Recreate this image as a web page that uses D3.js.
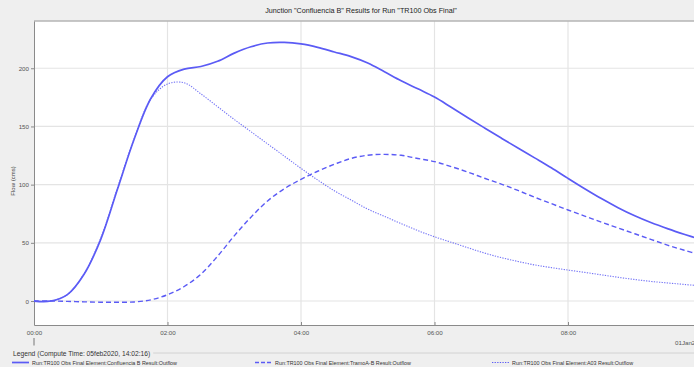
<!DOCTYPE html>
<html>
<head>
<meta charset="utf-8">
<script src="https://cdn.jsdelivr.net/npm/d3@7"></script>
<style>
  html, body { margin: 0; padding: 0; background: #efefef; }
  svg { display: block; font-family: "Liberation Sans", Arial, sans-serif; }
</style>
</head>
<body>
<svg id="chart" width="694" height="367"></svg>
<script>
// Simulation time, hours after 00:00 (15-minute steps)
const hours = d3.range(0, 10.001, 0.25);

// Outflow (cms) for each element at the times above
const confluenciaB = [
  0, 0, 5.5, 23, 53, 96, 139, 174, 192.7, 199.2, 201.5, 206, 213, 218.5, 221.7, 222.2,
  220.9, 218, 214, 210, 204.5, 197, 189.3, 182.3, 175.3, 166.5, 157.5, 148.7, 140, 131.4,
  123, 114.5, 105.4, 96.5, 88, 80.2, 73.2, 67.2, 62, 57.2, 52.6
];
const tramoAB = [
  0, 0, -0.3, -0.7, -1, -1, -0.8, 1, 5.4, 12.5, 23, 38.5, 56, 72, 86, 96.5,
  104.5, 111.5, 117.5, 122.5, 125.3, 126, 125.2, 122.5, 119.8, 115.5, 110.8, 105.5, 100.5, 95,
  89.2, 83.7, 78.2, 73, 67.8, 62.8, 57.8, 52.8, 47.8, 43.5, 39.5
];
const a03 = [
  0, 0, 5.5, 23.5, 54, 97, 139.5, 173.5, 186.5, 187.5, 178, 167, 156, 145.5, 135, 124.5,
  114, 104, 94.7, 86.8, 79, 72.8, 66.5, 60.5, 55.2, 50.5, 45.8, 41.2, 37.3, 34,
  31, 28.7, 26.6, 24.6, 22.5, 20.4, 18.5, 16.8, 15.5, 14.2, 13
];

const yTicks = [0, 50, 100, 150, 200];
const xTicks = [0, 2, 4, 6, 8];
const xTickLabels = ["00:00", "02:00", "04:00", "06:00", "08:00"];
const seriesNames = [
  "Run:TR100 Obs Final Element:Confluencia B Result:Outflow",
  "Run:TR100 Obs Final Element:TramoA-B Result:Outflow",
  "Run:TR100 Obs Final Element:A03 Result:Outflow"
];
const titleText = "Junction \"Confluencia B\" Results for Run \"TR100 Obs Final\"";
const legendTitle = "Legend (Compute Time: 05feb2020, 14:02:16)";
const dateLabel = "01Jan2000";

const svg = d3.select("#chart");
const W = 694, H = 367;
const plot = { left: 34, top: 21, right: 701.5, bottom: 325 };

const x = d3.scaleLinear().domain([0, 10]).range([plot.left, plot.right]);
const y = d3.scaleLinear().domain([-20.6, 240.6]).range([plot.bottom, plot.top]);

const lineColor = "#5b5bf5";

// background
svg.append("rect").attr("width", W).attr("height", H).attr("fill", "#efefef");

// title
svg.append("text")
  .attr("x", 361).attr("y", 12.5)
  .attr("text-anchor", "middle")
  .attr("font-size", 7.2)
  .attr("fill", "#222")
  .text(titleText);

// plot area
svg.append("rect")
  .attr("x", plot.left).attr("y", plot.top)
  .attr("width", plot.right - plot.left).attr("height", plot.bottom - plot.top)
  .attr("fill", "#fff");

// grid
const grid = svg.append("g").attr("stroke", "#e4e4e4").attr("stroke-width", 1.2);
grid.selectAll("line.h").data(yTicks).join("line")
  .attr("x1", plot.left).attr("x2", plot.right)
  .attr("y1", d => y(d)).attr("y2", d => y(d));
grid.selectAll("line.v").data(xTicks.filter(d => d > 0)).join("line")
  .attr("x1", d => x(d)).attr("x2", d => x(d))
  .attr("y1", plot.top).attr("y2", plot.bottom);

// top frame
svg.append("line")
  .attr("x1", plot.left).attr("x2", plot.right)
  .attr("y1", plot.top).attr("y2", plot.top)
  .attr("stroke", "#b4b4b4").attr("stroke-width", 1.5);

// y axis
const yAxis = svg.append("g")
  .attr("transform", `translate(${plot.left},0)`)
  .call(d3.axisLeft(y).tickValues(yTicks).tickSize(3).tickPadding(2).tickSizeOuter(0));
yAxis.select(".domain").attr("stroke", "#8a8a8a");
yAxis.selectAll(".tick line").attr("stroke", "#8a8a8a");
yAxis.selectAll(".tick text").attr("font-size", 6.2).attr("fill", "#555")
  .attr("font-family", "Liberation Sans, Arial, sans-serif");

// x axis
const xAxis = svg.append("g")
  .attr("transform", `translate(0,${plot.bottom})`)
  .call(d3.axisBottom(x).tickValues(xTicks).tickSize(-3).tickPadding(6)
    .tickFormat((d, i) => xTickLabels[i]).tickSizeOuter(0));
xAxis.select(".domain").attr("stroke", "#8a8a8a");
xAxis.selectAll(".tick line").attr("stroke", "#8a8a8a");
xAxis.selectAll(".tick text").attr("font-size", 6.2).attr("fill", "#555")
  .attr("font-family", "Liberation Sans, Arial, sans-serif");

// day marker below the first tick
svg.append("line")
  .attr("x1", x(0)).attr("x2", x(0))
  .attr("y1", 338).attr("y2", 345.5)
  .attr("stroke", "#777").attr("stroke-width", 1);
svg.append("text")
  .attr("x", 675).attr("y", 345)
  .attr("font-size", 6.2).attr("fill", "#555")
  .text(dateLabel);

// axis title
svg.append("text")
  .attr("transform", `translate(14.5,181) rotate(-90)`)
  .attr("text-anchor", "middle")
  .attr("font-size", 6)
  .attr("fill", "#444")
  .text("Flow (cms)");

// series
svg.append("clipPath").attr("id", "plotClip")
  .append("rect")
  .attr("x", plot.left).attr("y", plot.top)
  .attr("width", plot.right - plot.left).attr("height", plot.bottom - plot.top);

const line = d3.line().x((d, i) => x(hours[i])).y(d => y(d)).curve(d3.curveCatmullRom.alpha(0.5));

const series = [
  { values: a03, width: 1.1, dash: "1.3,1.3", opacity: 0.85 },
  { values: tramoAB, width: 1.4, dash: "5,3", opacity: 1 },
  { values: confluenciaB, width: 1.7, dash: null, opacity: 1 }
];
svg.append("g").attr("clip-path", "url(#plotClip)")
  .selectAll("path").data(series).join("path")
  .attr("d", d => line(d.values))
  .attr("fill", "none")
  .attr("stroke", lineColor)
  .attr("stroke-width", d => d.width)
  .attr("stroke-dasharray", d => d.dash)
  .attr("stroke-opacity", d => d.opacity);

// legend
const lt = svg.append("text")
  .attr("x", 13).attr("y", 355.5)
  .attr("font-size", 6.7).attr("fill", "#333")
  .text(legendTitle);
const ltw = lt.node().getComputedTextLength();
svg.append("line")
  .attr("x1", 13 + ltw + 3).attr("x2", W)
  .attr("y1", 353).attr("y2", 353)
  .attr("stroke", "#d2d2d2").attr("stroke-width", 1);

const legendItems = [
  { x: 12, dash: null, width: 1.7 },
  { x: 255, dash: "4,2", width: 1.4 },
  { x: 492, dash: "1.3,1.3", width: 1.2 }
];
const lg = svg.append("g").selectAll("g").data(legendItems).join("g")
  .attr("transform", d => `translate(${d.x},362.5)`);
lg.append("line")
  .attr("x1", 0).attr("x2", 17)
  .attr("stroke", lineColor)
  .attr("stroke-width", d => d.width)
  .attr("stroke-dasharray", d => d.dash);
lg.append("text")
  .attr("x", 20).attr("y", 2)
  .attr("font-size", 5.4).attr("fill", "#333")
  .text((d, i) => seriesNames[i]);
</script>
</body>
</html>
